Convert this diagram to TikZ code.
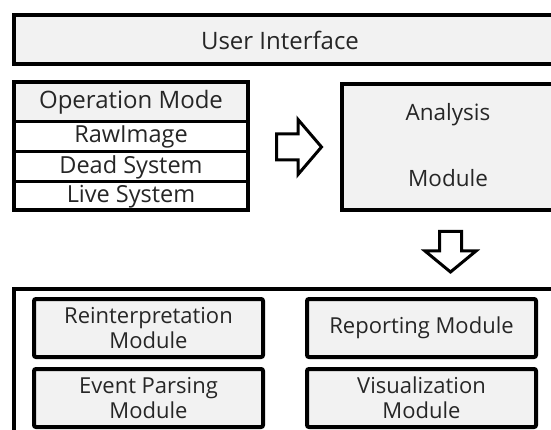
\documentclass[tikz,border=0pt]{standalone}
\usepackage{fontspec}
\setmainfont{Open Sans}
\definecolor{boxgrey}{HTML}{F2F2F2}
\begin{document}
\begin{tikzpicture}[x=1pt,y=-1pt,
  frame/.style={draw=black, line width=4pt, fill=boxgrey},
  rowline/.style={draw=black, line width=3pt},
  label/.style={font=\fontsize{24}{26}\selectfont, text=black!85, inner sep=0pt},
  rowlabel/.style={label, font=\fontsize{23.5}{26}\selectfont},
  modbox/.style={draw=black, line width=4pt, fill=boxgrey, rounded corners=2pt, inner sep=0pt, align=center,
    font=\fontsize{22}{25}\selectfont, text=black!85},
  blockarrow/.style={draw=black, line width=3pt, fill=white, line join=miter}
]
\useasboundingbox (0,0) rectangle (551,430);
\clip (0,0) rectangle (551,430);
\fill[white] (0,0) rectangle (551,430);

% User interface
\draw[frame] (14,15) rectangle (620,64);
\node[label] (ui) at (280,40) {User Interface};

% Operation mode group
\fill[boxgrey] (14,82) rectangle (248,121.5);
\fill[white] (14,121.5) rectangle (248,210);
\draw[rowline] (14,121.5) -- (248,121.5);
\draw[rowline] (14,152) -- (248,152);
\draw[rowline] (14,182) -- (248,182);
\draw[draw=black, line width=4pt] (14,82) rectangle (248,210);
\node[label] (om) at (131,102) {Operation Mode};
\node[rowlabel] (raw) at (131,137) {RawImage};
\node[rowlabel] (dead) at (131,167) {Dead System};
\node[rowlabel] (live) at (131,197) {Live System};

% Analysis module
\draw[frame] (342,84) rectangle (620,210);
\node[label, font=\fontsize{22.5}{25}\selectfont] (an1) at (448,115) {Analysis};
\node[label, font=\fontsize{22.5}{25}\selectfont] (an2) at (448,178) {Module};

% right block arrow (Operation Mode -> Analysis Module)
\draw[blockarrow] (276.5,134) -- (298,134) -- (298,119.5) -- (321.5,147) -- (298,174.5) -- (298,160) -- (276.5,160) -- cycle;

% down block arrow (Analysis Module -> modules)
\draw[blockarrow] (439.5,231.5) -- (461.5,231.5) -- (461.5,251) -- (476,251) -- (450.5,272) -- (425,251) -- (439.5,251) -- cycle;

% bottom container
\draw[draw=black, line width=4pt, fill=white] (14,289) rectangle (620,500);

\node[modbox, minimum width=229pt, minimum height=58pt, anchor=north west] (reint) at (32,297)
  {Reinterpretation\\Module};
\node[modbox, minimum width=229pt, minimum height=58pt, anchor=north west] (report) at (305,297)
  {Reporting Module};
\node[modbox, minimum width=229pt, minimum height=58pt, anchor=north west] (event) at (32,367)
  {Event Parsing\\Module};
\node[modbox, minimum width=229pt, minimum height=58pt, anchor=north west] (visual) at (305,367)
  {Visualization\\Module};
\end{tikzpicture}
\end{document}
